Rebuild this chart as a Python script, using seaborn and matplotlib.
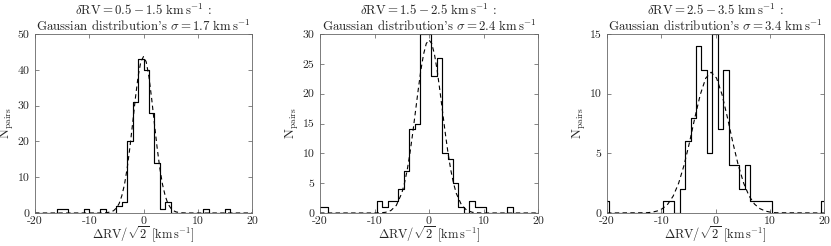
import warnings
import numpy as np
import pandas as pd
import matplotlib
matplotlib.use("Agg")
import matplotlib.pyplot as plt
import seaborn as sns

warnings.filterwarnings("ignore")

# Histogram counts (lower bin edge -> count), 1 km/s bins; empty bins left out
bin_lo_1 = [-16, -15, -11, -8, -5, -4, -3, -2, -1, 0, 1, 2, 3, 4, 11, 15]
counts_1 = [1, 1, 1, 1, 2, 3, 20, 31, 43, 40, 28, 14, 1, 3, 1, 1]

bin_lo_2 = [-20.6, -19.6, -9.6, -8.6, -7.6, -6.6, -5.6, -4.6, -3.6, -2.6, -1.6, -0.6,
            0.4, 1.4, 2.4, 3.4, 4.4, 5.4, 7.4, 8.4, 9.4, 14.4]
counts_2 = [1, 1, 2, 1, 2, 2, 4, 7, 14, 15, 30, 30, 23, 26, 10, 9, 5, 1, 2, 1, 1, 1]

bin_lo_3 = [-20.6, -9.6, -8.6, -6.6, -5.6, -4.6, -3.6, -2.6, -1.6, -0.6, 0.4, 1.4,
            2.4, 3.4, 4.4, 5.4, 6.4, 7.4, 8.4, 9.4, 19.4]
counts_3 = [1, 1, 1, 2, 6, 8, 14, 12, 5, 15, 7, 12, 4, 4, 2, 4, 1, 1, 1, 1, 1]

# Gaussian fit curves (dashed)
fit_x_1 = [-20, -8, -7, -6, -5.5, -5, -4.5, -4, -3.5, -3, -2.5, -2, -1.5, -1, -0.5, 0,
           0.5, 1, 1.5, 2, 2.5, 3, 3.5, 4, 4.5, 5, 5.5, 6, 7, 8, 20]
fit_y_1 = [0, 0, 0.05, 0.3, 0.66, 1.4, 2.6, 4.8, 8.0, 12.6, 18.4, 25.1, 32.0, 38.1, 42.2, 43.7,
           42.2, 38.1, 32.0, 25.1, 18.4, 12.6, 8.0, 4.8, 2.6, 1.4, 0.66, 0.3, 0.05, 0, 0]

fit_x_2 = [-20, -10, -9, -8, -7, -6, -5, -4.5, -4, -3.5, -3, -2.5, -2, -1.5, -1, -0.5, 0,
           0.5, 1, 1.5, 2, 2.5, 3, 3.5, 4, 4.5, 5, 6, 7, 8, 9, 10, 20]
fit_y_2 = [0, 0, 0.03, 0.11, 0.41, 1.27, 3.3, 5.0, 7.2, 10.0, 13.3, 16.9, 20.5, 23.9, 26.6, 28.4, 29.0,
           28.4, 26.6, 23.9, 20.5, 16.9, 13.3, 10.0, 7.2, 5.0, 3.3, 1.27, 0.41, 0.11, 0.03, 0, 0]

fit_x_3 = [-20, -12.8, -11.8, -10.8, -9.8, -8.8, -7.8, -6.8, -5.8, -4.8, -3.8, -2.8, -1.8, -0.8,
           0.2, 1.2, 2.2, 3.2, 4.2, 5.2, 6.2, 7.2, 8.2, 9.2, 10.2, 11.2, 20]
fit_y_3 = [0, 0.02, 0.06, 0.16, 0.36, 0.74, 1.42, 2.49, 4.0, 5.9, 8.0, 9.93, 11.3, 11.8,
           11.3, 9.93, 8.0, 5.9, 4.0, 2.49, 1.42, 0.74, 0.36, 0.16, 0.06, 0.02, 0]

bin_starts = [-21.0, -20.6, -20.6]
rv_ranges = ["0.5 - 1.5", "1.5 - 2.5", "2.5 - 3.5"]
sigmas = ["1.7", "2.4", "3.4"]
y_max = [50, 30, 15]
y_step = [10, 5, 5]

panels = [
    (bin_lo_1, counts_1, fit_x_1, fit_y_1),
    (bin_lo_2, counts_2, fit_x_2, fit_y_2),
    (bin_lo_3, counts_3, fit_x_3, fit_y_3),
]

sns.set_style("ticks")
plt.rcParams["font.family"] = "serif"
plt.rcParams["font.serif"] = ["cmr10", "DejaVu Serif"]
plt.rcParams["mathtext.fontset"] = "cm"
plt.rcParams["axes.unicode_minus"] = False
plt.rcParams["axes.formatter.use_mathtext"] = False

fig = plt.figure(figsize=(8.31, 2.46), dpi=100)
lefts = [35 / 831, 320 / 831, 607 / 831]
widths = [217 / 831, 218 / 831, 217 / 831]
bottom, height = 1 - 213 / 246, (213 - 34) / 246

for i, (lo, cnt, fx, fy) in enumerate(panels):
    ax = fig.add_axes([lefts[i], bottom, widths[i], height])
    edges = [round(e, 1) for e in np.arange(bin_starts[i], 21.01, 1.0)]
    df = pd.DataFrame({"x": np.array(lo) + 0.5, "n": cnt})
    sns.histplot(data=df, x="x", weights="n", bins=edges, element="step",
                 fill=False, color="black", linewidth=0.85, ax=ax)
    sns.lineplot(x=fx, y=fy, color="black", linewidth=0.8, ax=ax,
                 linestyle=(0, (4, 3)))
    ax.set_xlim(-20, 20)
    ax.set_ylim(0, y_max[i])
    ax.set_xticks([-20, -10, 0, 10, 20])
    ax.set_yticks(np.arange(0, y_max[i] + 1, y_step[i]))
    ax.tick_params(direction="in", length=3, width=0.5, top=True, right=True,
                   labelsize=8.5, color="#555555")
    ax.tick_params(axis="x", pad=2.5)
    ax.tick_params(axis="y", pad=4)
    for s in ax.spines.values():
        s.set_linewidth(0.6)
        s.set_color("#666666")
    ax.set_xlabel(r"$\Delta\mathrm{RV}/\sqrt{2}\ [\mathrm{km\,s^{-1}}]$", fontsize=9, labelpad=-1)
    ax.set_ylabel(r"$\mathrm{N_{pairs}}$", fontsize=9.5, labelpad=1)
    ax.set_title(r"$\delta\mathrm{RV} = %s\ \mathrm{km\,s^{-1}}$ :" % rv_ranges[i] + "\n"
                 + r"Gaussian distribution's $\sigma = %s\ \mathrm{km\,s^{-1}}$" % sigmas[i],
                 fontsize=9.3, pad=2, linespacing=1.05)

fig.savefig("out.png", dpi=100)
